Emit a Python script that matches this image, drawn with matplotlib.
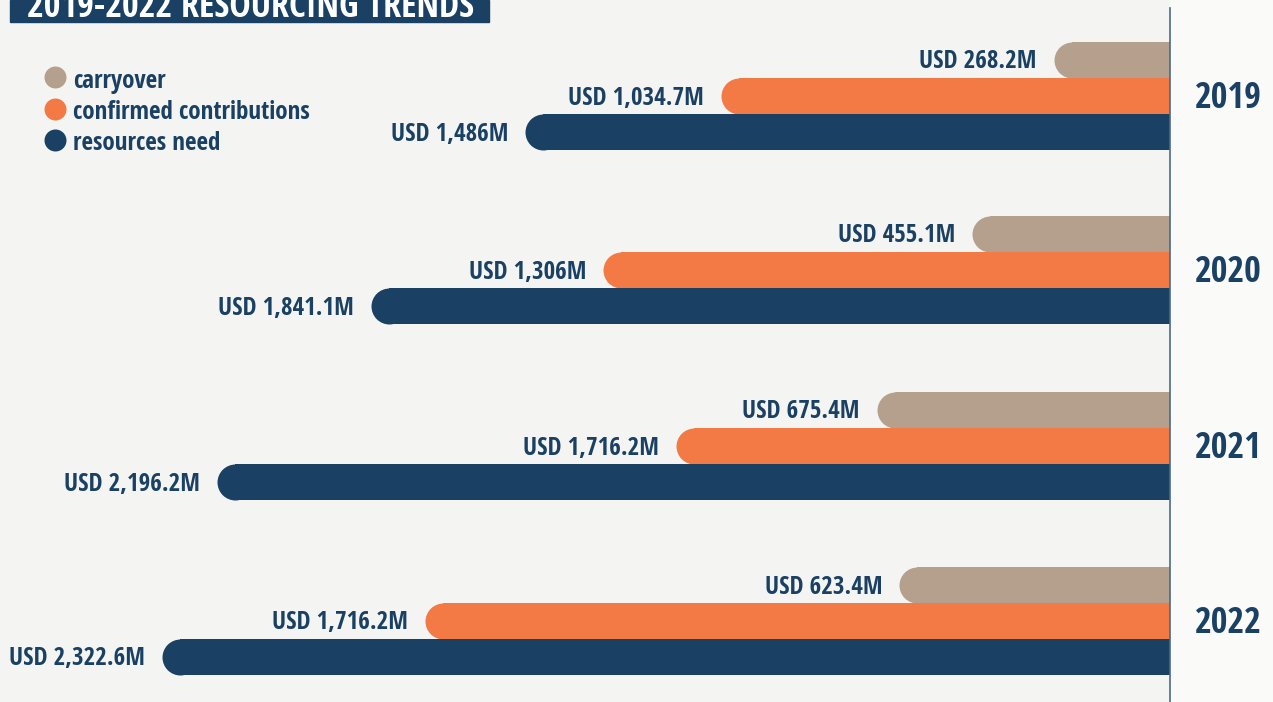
import matplotlib
matplotlib.use("Agg")
import matplotlib.pyplot as plt
from matplotlib.patches import Rectangle

# data
years = ["2019", "2020", "2021", "2022"]
carryover = [268.2, 455.1, 675.4, 623.4]
# bar lengths as drawn in the picture (the 2021 bar is drawn shorter than its label)
confirmed = [1034.7, 1306.0, 1138.0, 1716.2]
need = [1486.0, 1841.1, 2196.2, 2322.6]
labels_carry = ["USD 268.2M", "USD 455.1M", "USD 675.4M", "USD 623.4M"]
labels_conf = ["USD 1,034.7M", "USD 1,306M", "USD 1,716.2M", "USD 1,716.2M"]
labels_need = ["USD 1,486M", "USD 1,841.1M", "USD 2,196.2M", "USD 2,322.6M"]
series_names = ["carryover", "confirmed contributions", "resources need"]

c_carry = "#B5A08D"
c_conf = "#F47A45"
c_need = "#1A4163"
navy = "#1A4163"
FONT = ["Open Sans Condensed", "DejaVu Sans"]

W, H = 1273, 702
fig = plt.figure(figsize=(W / 100, H / 100), dpi=100)
fig.patch.set_facecolor("#F4F5F2")
ax = fig.add_axes([0, 0, 1, 1])
ax.set_facecolor("none")

# values grow leftward from the vertical line at pixel 1170
ppu = 1008 / 2322.6            # pixels per USD million
x0 = 1170
ax.set_xlim(-x0 / ppu, (W - x0) / ppu)
ax.set_ylim(H, 0)
ax.axis("off")

def px(x):
    # figure pixel column -> data x
    return (x - x0) / ppu

# lighter strip on the right
ax.add_patch(Rectangle((0, 0), px(W), H, color="#FAFAF9", zorder=0))
ax.axvline(0, ymin=0, ymax=1 - 8 / H, color="#4A6A88", lw=1.2, zorder=3)

bar_h = 36
r = bar_h / 2 / ppu            # rounded-end radius in data units
group_top = [42, 216, 392, 567]

def rounded_bar(yc, value, color):
    ax.barh(yc, -(value - r), left=0, height=bar_h, color=color, lw=0, zorder=2)
    ax.scatter([-(value - r)], [yc], s=(bar_h * 0.72) ** 2, color=color, lw=0,
               marker="o", zorder=2)

for i, yr in enumerate(years):
    top = group_top[i]
    rows = [(carryover[i], c_carry, labels_carry[i]),
            (confirmed[i], c_conf, labels_conf[i]),
            (need[i], c_need, labels_need[i])]
    for j, (v, col, lab) in enumerate(rows):
        yc = top + bar_h / 2 + j * bar_h
        rounded_bar(yc, v, col)
        ax.text(-v - 17 / ppu, yc + 2, lab, ha="right", va="center",
                fontsize=18, fontweight="bold", color=navy, family=FONT)
    ax.text(px(1228), top + 57, yr, ha="center", va="center",
            fontsize=26, fontweight="bold", color=navy, family=FONT)

# legend
leg_cols = [c_carry, c_conf, c_need]
for k, name in enumerate(series_names):
    yc = 77 + k * 31.5
    ax.scatter([px(55)], [yc], s=(22 * 0.72) ** 2, color=leg_cols[k],
               lw=0, zorder=3)
    ax.text(px(73), yc + 4, name, ha="left", va="center",
            fontsize=18, fontweight="bold", color=navy, family=FONT)

# title box, cut off at the top edge
ax.add_patch(Rectangle((px(10), 0), 479 / ppu, 22, color=navy, zorder=3))
ax.text(px(250), 17, "2019-2022 RESOURCING TRENDS", ha="center",
        va="baseline", fontsize=26, fontweight="bold", color="white",
        family=FONT, zorder=4)

fig.savefig("out.png", dpi=100, facecolor=fig.get_facecolor())
